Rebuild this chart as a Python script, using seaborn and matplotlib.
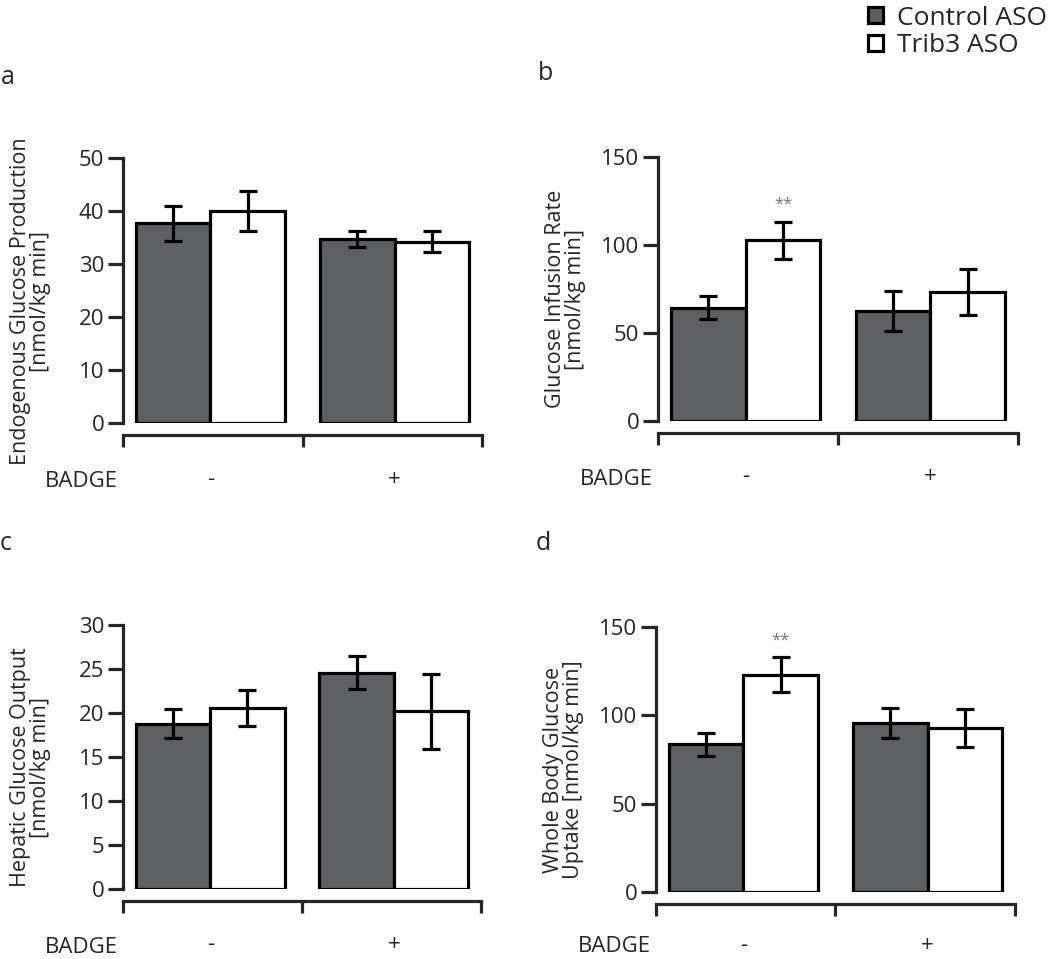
import numpy as np
import pandas as pd
import seaborn as sns
import matplotlib.pyplot as plt
from matplotlib.patches import Patch

sns.set_style("white")
plt.rcParams['font.family'] = ['Open Sans', 'DejaVu Sans']

badge = ['-', '+']
treatments = ['Control ASO', 'Trib3 ASO']

# panel a - endogenous glucose production
egp_control = [37.7, 34.8]
egp_trib3 = [40.0, 34.3]
egp_control_sem = [3.3, 1.5]
egp_trib3_sem = [3.8, 1.9]

# panel b - glucose infusion rate
gir_control = [64.2, 62.5]
gir_trib3 = [102.5, 73.0]
gir_control_sem = [6.5, 11.3]
gir_trib3_sem = [10.4, 13.0]

# panel c - hepatic glucose output
hgo_control = [18.8, 24.6]
hgo_trib3 = [20.6, 20.2]
hgo_control_sem = [1.6, 1.9]
hgo_trib3_sem = [2.05, 4.25]

# panel d - whole body glucose uptake
wbgu_control = [83.6, 95.6]
wbgu_trib3 = [123.0, 92.7]
wbgu_control_sem = [6.5, 8.3]
wbgu_trib3_sem = [9.8, 10.8]

colors = {'Control ASO': '#5d5f62', 'Trib3 ASO': 'white'}

fig = plt.figure(figsize=(10.5, 9.59), dpi=100)
W, H = 1050, 959


def make_ax(l, r, t, b):
    return fig.add_axes([l / W, 1 - b / H, (r - l) / W, (b - t) / H])


def panel(ax, ctrl, trib, ctrl_sem, trib_sem, ymax, ystep, ylabel, stars=None,
          badge_y=-0.221, pad=24):
    df = pd.DataFrame({
        'badge': badge * 2,
        'group': [treatments[0]] * 2 + [treatments[1]] * 2,
        'value': ctrl + trib,
    })
    sns.barplot(data=df, x='badge', y='value', hue='group', hue_order=treatments,
                order=badge, palette=colors, edgecolor='black', linewidth=2.3,
                width=0.81, errorbar=None, legend=False, ax=ax)
    bars = list(ax.containers)
    sems = [ctrl_sem, trib_sem]
    means = [ctrl, trib]
    for k, cont in enumerate(bars):
        xs = [p.get_x() + p.get_width() / 2 for p in cont]
        ax.errorbar(xs, means[k], yerr=sems[k], fmt='none', ecolor='black',
                    elinewidth=2.3, capsize=6.8, capthick=2.3, zorder=5)
    if stars is not None:
        p = bars[1][0]
        ax.text(p.get_x() + p.get_width() / 2, stars, '**', ha='center', va='center',
                fontsize=12, color='#777777')

    ax.set_xlim(-0.475, 1.475)
    ax.set_ylim(0, ymax)
    ax.set_yticks(np.arange(0, ymax + 0.1, ystep))
    ax.set_xticks([0, 1], badge)
    ax.set_xticks([-0.475, 0.5, 1.475], minor=True)
    ax.tick_params(axis='x', which='major', length=0, pad=pad, labelsize=16)
    ax.tick_params(axis='x', which='minor', bottom=True, length=8.6, width=2.3,
                   direction='out')
    ax.tick_params(axis='y', left=True, length=10.5, width=2.3, direction='out',
                   labelsize=16, pad=3)
    for s in ['top', 'right']:
        ax.spines[s].set_visible(False)
    ax.spines['left'].set_linewidth(2.3)
    ax.spines['bottom'].set_linewidth(2.3)
    ax.spines['bottom'].set_position(('outward', 8.6))
    ax.set_xlabel('')
    ax.set_ylabel(ylabel, fontsize=15.5, linespacing=0.95)
    ax.yaxis.set_label_coords(-0.2, 0.46)
    ax.text(-0.217, badge_y, 'BADGE', transform=ax.transAxes, ha='left', va='center',
            fontsize=16)


ax_a = make_ax(123, 482, 158.3, 423.3)
panel(ax_a, egp_control, egp_trib3, egp_control_sem, egp_trib3_sem, 50, 10,
      'Endogenous Glucose Production\n[nmol/kg min]')
ax_b = make_ax(658, 1018, 156.7, 420.7)
panel(ax_b, gir_control, gir_trib3, gir_control_sem, gir_trib3_sem, 150, 50,
      'Glucose Infusion Rate\n[nmol/kg min]', stars=123)
ax_c = make_ax(123, 481, 625, 889)
panel(ax_c, hgo_control, hgo_trib3, hgo_control_sem, hgo_trib3_sem, 30, 5,
      'Hepatic Glucose Output\n[nmol/kg min]')
ax_d = make_ax(656, 1015, 626.7, 892.3)
panel(ax_d, wbgu_control, wbgu_trib3, wbgu_control_sem, wbgu_trib3_sem, 150, 50,
      'Whole Body Glucose\nUptake [nmol/kg min]', stars=142, badge_y=-0.205, pad=22)

for letter, (px, py) in zip('abcd', [(8, 77), (545, 73), (6, 543), (543, 544)]):
    fig.text(px / W, 1 - py / H, letter, ha='center', va='center', fontsize=18)

handles = [Patch(facecolor=colors[t], edgecolor='black', linewidth=2.3) for t in treatments]
fig.legend(handles, treatments, loc='upper right', bbox_to_anchor=(1.0, 0.997), frameon=False,
           fontsize=19, handlelength=0.55, handleheight=0.55, handletextpad=0.55,
           labelspacing=0.1, borderaxespad=0.0, borderpad=0.1)

fig.savefig('out.png', dpi=100)
